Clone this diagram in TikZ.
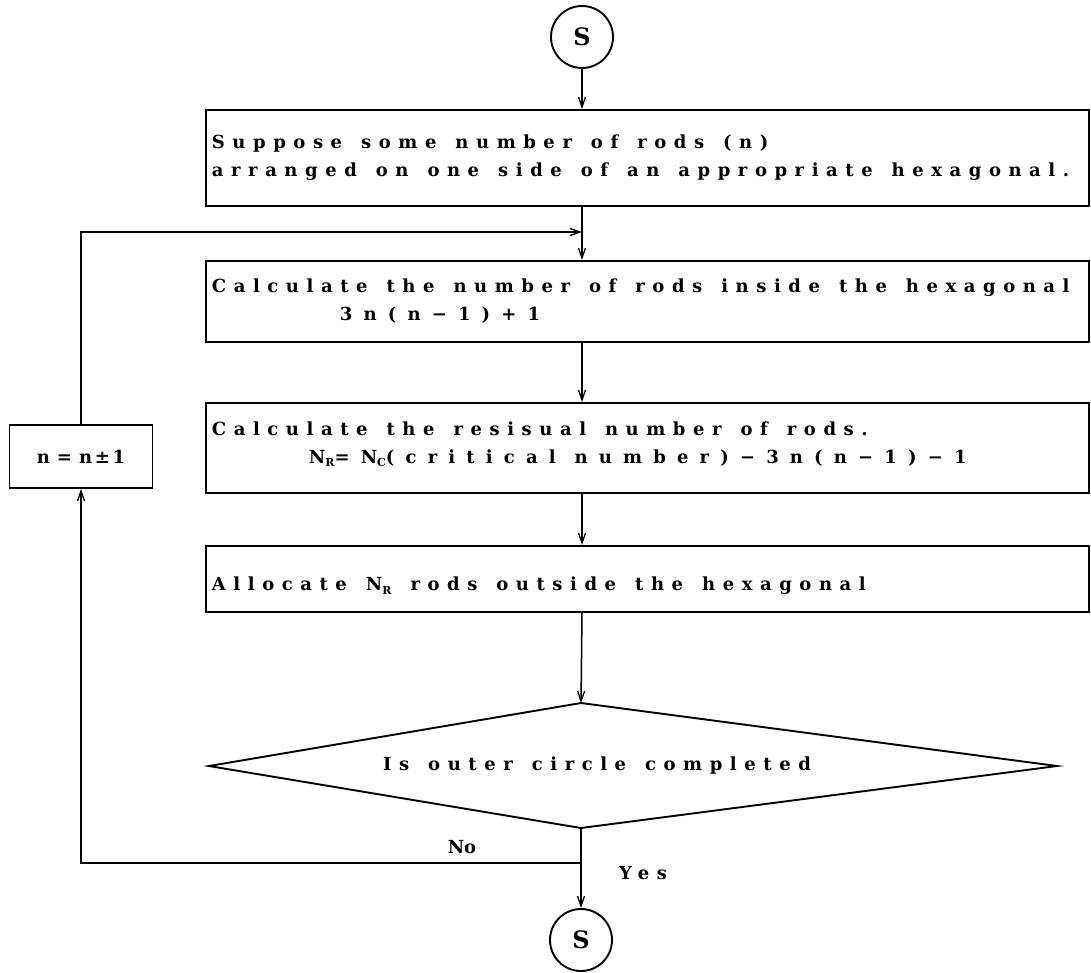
\documentclass[tikz,border=0pt]{standalone}
\usepackage{fontspec}
\setmainfont{DejaVu Serif}
\newfontfamily\flowfont{DejaVu Serif}[LetterSpace=42]
\newfontfamily\formfont{DejaVu Serif}[LetterSpace=62]
\newfontfamily\plainfont{DejaVu Serif}[LetterSpace=15]
\usetikzlibrary{arrows.meta}
\newcommand{\subR}[1]{\raisebox{-0.35ex}{\fontsize{11}{11}\selectfont #1}}
\newcommand{\flowsp}{\spaceskip 19pt\relax}
\newcommand{\shiftline}[2]{\raisebox{#1}[\height][\depth]{#2}}
\tikzset{
  flow/.style={line width=1.5pt},
  arr/.style={flow, -{Straight Barb[length=10pt,width=7pt,line width=1.3pt]}},
  procbox/.style={draw, line width=1.9pt, inner xsep=6pt, inner ysep=0pt,
    minimum width=883pt, text width=871pt, align=left, anchor=north west,
    font=\flowfont\bfseries\fontsize{18}{28}\selectfont},
  term/.style={draw, circle, line width=1.9pt, minimum size=62pt, inner sep=0pt,
    font=\bfseries\fontsize{24}{24}\selectfont},
  lbl/.style={inner sep=0pt, font=\flowfont\bfseries\fontsize{18}{22}\selectfont},
}
\begin{document}
\begin{tikzpicture}[x=1pt,y=-1pt]
\useasboundingbox (0,0) rectangle (1091,972);
% terminals
\node[term] (s1) at (582,37) {S};
\node[term] (s2) at (581,940) {S};
% process boxes
\node[procbox, minimum height=96pt] (b1) at (205,109)
  {\flowsp\mbox{Suppose some number of rods (n)}\\\mbox{arranged on one side of an appropriate hexagonal.}};
\node[procbox, minimum height=81pt] (b2) at (205,260)
  {\flowsp\mbox{Calculate the number of rods inside the hexagonal}\\\mbox{\hspace*{128pt}\formfont 3n(n−1)+1}};
\node[procbox, minimum height=90pt] (b3) at (205,402)
  {\flowsp\shiftline{4pt}{\mbox{Calculate the resisual number of rods.}}\\\shiftline{4pt}{\mbox{\hspace*{97pt}\formfont N\subR{R}=N\subR{C}(critical number)−3n(n−1)−1}}};
\node[procbox, minimum height=66pt] (b4) at (205,545)
  {\flowsp\shiftline{-7pt}{\mbox{Allocate N\subR{R} rods outside the hexagonal}}};
% decision
\coordinate (dt) at (581,703);
\coordinate (dl) at (209,766);
\coordinate (dr) at (1057,766);
\coordinate (db) at (581,828);
\draw[line width=1.9pt, line join=miter] (dt) -- (dr) -- (db) -- (dl) -- cycle;
\node[lbl] (q) at (597,766) {\flowsp Is outer circle completed};
% increment box
\node[draw, line width=1.9pt, minimum width=143pt, minimum height=63pt, inner sep=0pt,
  font=\plainfont\bfseries\fontsize{18}{22}\selectfont] (nb) at (81,456.5)
  {n\hspace{7pt}=\hspace{7pt}n±1};
% connectors
\coordinate (join) at (582,232);
\coordinate (fork) at (581,863);
\draw[arr] (s1.south) -- (s1.south |- b1.north);
\draw[arr] (s1.south |- b1.south) -- (s1.south |- b2.north);
\draw[arr] (nb.north) |- (join);
\draw[arr] (s1.south |- b2.south) -- (s1.south |- b3.north);
\draw[arr] (s1.south |- b3.south) -- (s1.south |- b4.north);
\draw[arr] (s1.south |- b4.south) -- (dt);
\draw[flow] (db) -- (fork);
\draw[arr] (fork) -- (s2.north);
\draw[arr] (fork) -| (nb.south);
\node[inner sep=0pt, font=\bfseries\fontsize{18}{22}\selectfont] (no) at (462,847) {No};
\node[lbl] (yes) at (643,873) {Yes};
\end{tikzpicture}
\end{document}
